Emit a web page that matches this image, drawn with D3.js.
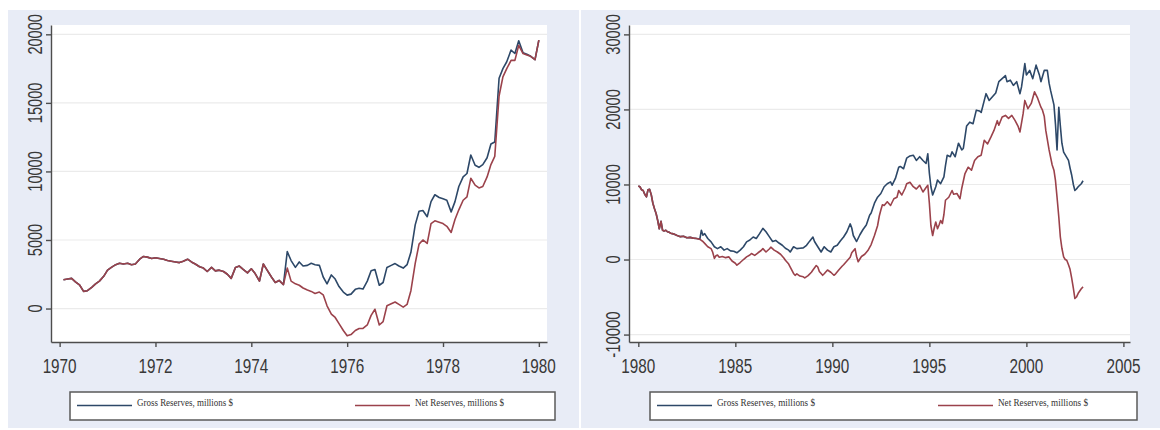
<!DOCTYPE html>
<html>
<head>
<meta charset="utf-8">
<script src="https://cdn.jsdelivr.net/npm/d3@7"></script>
<style>
  html, body { margin: 0; padding: 0; background: #ffffff; }
  svg { display: block; }
</style>
</head>
<body>
<svg id="chart" width="1160" height="430"></svg>
<script>
// ---------- Panel 1: 1970-1980, monthly ----------
const leftDates = [
  1970.08, 1970.17, 1970.25, 1970.33, 1970.42, 1970.50, 1970.58, 1970.67, 1970.75, 1970.83, 1970.92,
  1971.00, 1971.08, 1971.17, 1971.25, 1971.33, 1971.42, 1971.50, 1971.58, 1971.67, 1971.75, 1971.83, 1971.92,
  1972.00, 1972.08, 1972.17, 1972.25, 1972.33, 1972.42, 1972.50, 1972.58, 1972.67, 1972.75, 1972.83, 1972.92,
  1973.00, 1973.08, 1973.17, 1973.25, 1973.33, 1973.42, 1973.50, 1973.58, 1973.67, 1973.75, 1973.83, 1973.92,
  1974.00, 1974.08, 1974.17, 1974.25, 1974.33, 1974.42, 1974.50, 1974.58, 1974.67, 1974.75, 1974.83, 1974.92,
  1975.00, 1975.08, 1975.17, 1975.25, 1975.33, 1975.42, 1975.50, 1975.58, 1975.67, 1975.75, 1975.83, 1975.92,
  1976.00, 1976.08, 1976.17, 1976.25, 1976.33, 1976.42, 1976.50, 1976.58, 1976.67, 1976.75, 1976.83, 1976.92,
  1977.00, 1977.08, 1977.17, 1977.25, 1977.33, 1977.42, 1977.50, 1977.58, 1977.67, 1977.75, 1977.83, 1977.92,
  1978.00, 1978.08, 1978.17, 1978.25, 1978.33, 1978.42, 1978.50, 1978.58, 1978.67, 1978.75, 1978.83, 1978.92,
  1979.00, 1979.08, 1979.17, 1979.25, 1979.33, 1979.42, 1979.50, 1979.58, 1979.67, 1979.75, 1979.83, 1979.92,
  1980.00
];
const leftNet = [
  2100, 2150, 2200, 1950, 1700, 1250, 1300, 1550, 1800, 2000, 2350,
  2800, 3000, 3200, 3300, 3250, 3300, 3200, 3250, 3600, 3800, 3750, 3650,
  3700, 3650, 3600, 3500, 3450, 3400, 3350, 3450, 3600, 3400, 3250, 3050,
  2950, 2700, 3000, 2750, 2800, 2700, 2500, 2200, 3000, 3100, 2850, 2600,
  2900, 2550, 2000, 3250, 2800, 2300, 1900, 2050, 1750, 2950, 2000, 1800,
  1700, 1500, 1350, 1250, 1100, 1200, 1000, 200, -400, -650, -1100, -1600,
  -1990, -1900, -1600, -1450, -1450, -1200, -500, -50, -1200, -950, 200, 350,
  480, 300, 100, 300, 1300, 3300, 4700, 5000, 4750, 6200, 6400, 6300,
  6200, 6000, 5550, 6500, 7200, 7900, 8150, 9500, 9000, 8800, 8900, 9600,
  10500, 11100, 15500, 16900, 17500, 18100, 18100, 19200, 18600, 18500, 18400, 18150,
  19580
];
const leftGross = [
  2100, 2150, 2200, 1950, 1700, 1250, 1300, 1550, 1800, 2000, 2350,
  2800, 3000, 3200, 3300, 3250, 3300, 3200, 3250, 3600, 3800, 3750, 3650,
  3700, 3650, 3600, 3500, 3450, 3400, 3350, 3450, 3600, 3400, 3250, 3050,
  2950, 2700, 3000, 2750, 2800, 2700, 2500, 2200, 3000, 3100, 2850, 2600,
  2900, 2550, 2000, 3250, 2800, 2300, 1900, 2050, 1750, 4150, 3500, 3000,
  3400, 3100, 3150, 3300, 3200, 3150, 2300, 1800, 2450, 2150, 1600, 1200,
  980, 1050, 1400, 1480, 1420, 2000, 2750, 2850, 1700, 1900, 3000, 3150,
  3280, 3100, 2950, 3200, 4100, 6100, 7100, 7150, 6700, 7800, 8300, 8100,
  8000, 7900, 7050, 7800, 8900, 9600, 9850, 11200, 10450, 10300, 10500, 11000,
  12000, 12150, 16800, 17500, 18000, 18850, 18600, 19530, 18650, 18550, 18400, 18150,
  19580
];
const leftYearTicks = [1970, 1972, 1974, 1976, 1978, 1980];
const leftValueTicks = [0, 5000, 10000, 15000, 20000];

// ---------- Panel 2: 1980-2003 ----------
const rightGross = [
  [1980.00, 9800], [1980.08, 9700], [1980.17, 9300], [1980.25, 9200], [1980.33, 8700], [1980.42, 8350],
  [1980.50, 9300], [1980.58, 9350], [1980.67, 8600], [1980.75, 7500], [1980.83, 6800], [1980.92, 6100],
  [1981.00, 5200], [1981.08, 4100], [1981.17, 5100], [1981.25, 3900], [1981.33, 3800], [1981.42, 3900],
  [1981.50, 3700], [1981.58, 3650], [1981.67, 3500], [1981.75, 3450], [1981.83, 3400], [1982.00, 3200],
  [1982.17, 3050], [1982.33, 3100], [1982.50, 2900], [1982.67, 2950], [1982.83, 2850], [1983.00, 2800],
  [1983.17, 2700], [1983.25, 3900], [1983.33, 3250], [1983.42, 3450], [1983.58, 2800], [1983.75, 2350],
  [1983.92, 1700], [1984.08, 1450], [1984.25, 1700], [1984.42, 1250], [1984.58, 1450], [1984.75, 1150],
  [1984.92, 1100], [1985.08, 900], [1985.25, 1250], [1985.42, 1700], [1985.58, 2350], [1985.75, 2600],
  [1985.92, 3000], [1986.08, 2800], [1986.25, 3450], [1986.42, 4150], [1986.58, 3700], [1986.75, 3050],
  [1986.92, 2400], [1987.08, 2550], [1987.25, 2200], [1987.42, 1900], [1987.58, 1500], [1987.75, 1250],
  [1987.83, 1000], [1988.00, 1700], [1988.17, 1450], [1988.33, 1500], [1988.50, 1550], [1988.67, 1900],
  [1988.83, 2450], [1989.00, 3000], [1989.08, 2400], [1989.25, 1700], [1989.42, 1000], [1989.58, 1700],
  [1989.75, 1250], [1989.92, 1000], [1990.08, 1700], [1990.25, 1900], [1990.42, 2500], [1990.58, 3000],
  [1990.75, 3700], [1990.92, 4750], [1991.00, 4200], [1991.08, 3200], [1991.25, 2400], [1991.42, 3300],
  [1991.58, 4000], [1991.75, 4600], [1991.92, 5900], [1992.00, 6200], [1992.17, 7500], [1992.33, 8300],
  [1992.50, 8800], [1992.67, 9700], [1992.83, 10100], [1993.00, 10350], [1993.08, 9900], [1993.25, 10800],
  [1993.42, 12300], [1993.50, 12400], [1993.67, 12100], [1993.83, 13500], [1994.00, 13800], [1994.17, 13900],
  [1994.33, 13200], [1994.50, 13700], [1994.67, 13200], [1994.83, 12800], [1994.92, 14100], [1995.00, 11500],
  [1995.08, 9700], [1995.17, 8600], [1995.33, 9700], [1995.42, 10600], [1995.58, 10100], [1995.75, 11000],
  [1995.83, 12500], [1995.92, 13900], [1996.08, 13700], [1996.17, 14350], [1996.33, 13700], [1996.50, 15500],
  [1996.67, 14600], [1996.75, 14800], [1996.92, 17800], [1997.08, 18300], [1997.25, 18100], [1997.42, 19900],
  [1997.58, 19800], [1997.67, 19600], [1997.92, 22100], [1998.08, 21200], [1998.25, 21700], [1998.42, 22200],
  [1998.58, 23700], [1998.75, 24100], [1998.92, 24500], [1999.00, 23700], [1999.17, 23900], [1999.33, 23200],
  [1999.50, 23700], [1999.67, 22100], [1999.75, 23000], [1999.92, 26100], [2000.00, 24600], [2000.17, 25200],
  [2000.33, 24100], [2000.50, 25900], [2000.67, 24600], [2000.75, 23700], [2000.92, 25200], [2001.08, 25200],
  [2001.17, 23500], [2001.25, 22500], [2001.42, 20600], [2001.50, 18000], [2001.58, 14600], [2001.67, 20300],
  [2001.75, 17800], [2001.83, 15500], [2001.92, 14300], [2002.08, 13600], [2002.17, 13200], [2002.25, 12200],
  [2002.33, 11300], [2002.42, 10000], [2002.50, 9200], [2002.58, 9400], [2002.67, 9700], [2002.83, 10100],
  [2002.92, 10500]
];
const rightNet = [
  [1980.00, 9800], [1980.08, 9700], [1980.17, 9300], [1980.25, 9200], [1980.33, 8700], [1980.42, 8350],
  [1980.50, 9300], [1980.58, 9350], [1980.67, 8600], [1980.75, 7500], [1980.83, 6800], [1980.92, 6100],
  [1981.00, 5200], [1981.08, 4100], [1981.17, 5100], [1981.25, 3900], [1981.33, 3800], [1981.42, 3900],
  [1981.50, 3700], [1981.58, 3650], [1981.67, 3500], [1981.75, 3450], [1981.83, 3400], [1982.00, 3200],
  [1982.17, 3050], [1982.33, 3100], [1982.50, 2900], [1982.67, 2950], [1982.83, 2850], [1983.00, 2800],
  [1983.17, 2700], [1983.25, 2550], [1983.33, 2400], [1983.42, 2150], [1983.58, 1700], [1983.75, 1450],
  [1983.83, 1000], [1983.92, 150], [1984.00, 500], [1984.08, 600], [1984.17, 300], [1984.33, 400],
  [1984.50, 250], [1984.67, 350], [1984.83, -200], [1985.00, -500], [1985.08, -750], [1985.25, -400],
  [1985.42, 0], [1985.58, 350], [1985.75, 600], [1985.83, 800], [1986.00, 550], [1986.17, 900],
  [1986.33, 1200], [1986.42, 1450], [1986.58, 1000], [1986.75, 1400], [1986.83, 1650], [1987.00, 1250],
  [1987.17, 1000], [1987.33, 700], [1987.50, 200], [1987.58, -100], [1987.75, -600], [1987.83, -1000],
  [1988.00, -1850], [1988.08, -2100], [1988.17, -1900], [1988.33, -2200], [1988.50, -2300], [1988.58, -2450],
  [1988.75, -2150], [1988.92, -1700], [1989.00, -1400], [1989.17, -800], [1989.25, -1000], [1989.33, -1600],
  [1989.50, -2100], [1989.58, -1900], [1989.75, -1400], [1989.92, -1700], [1990.08, -2100], [1990.17, -1900],
  [1990.33, -1400], [1990.50, -900], [1990.58, -700], [1990.75, -200], [1990.92, 300], [1991.00, 900],
  [1991.17, 1450], [1991.25, 400], [1991.33, -300], [1991.50, 400], [1991.67, 700], [1991.83, 1200],
  [1992.00, 2000], [1992.17, 3200], [1992.33, 4500], [1992.42, 5800], [1992.50, 6600], [1992.58, 7300],
  [1992.67, 7200], [1992.83, 7700], [1993.00, 7200], [1993.17, 8100], [1993.33, 8300], [1993.42, 9200],
  [1993.58, 8600], [1993.75, 9500], [1993.83, 10100], [1994.00, 10300], [1994.17, 9700], [1994.33, 9400],
  [1994.50, 9900], [1994.67, 9000], [1994.83, 9600], [1994.92, 9900], [1995.00, 7500], [1995.08, 4500],
  [1995.17, 3200], [1995.25, 4200], [1995.33, 5000], [1995.42, 4100], [1995.50, 4600], [1995.58, 5200],
  [1995.67, 4800], [1995.75, 6000], [1995.83, 7900], [1996.00, 8300], [1996.17, 9200], [1996.25, 8700],
  [1996.42, 8800], [1996.58, 8100], [1996.67, 9500], [1996.83, 11400], [1997.00, 12300], [1997.17, 11900],
  [1997.33, 13200], [1997.50, 13700], [1997.67, 13900], [1997.83, 15900], [1998.00, 15400], [1998.17, 16300],
  [1998.33, 17200], [1998.50, 18500], [1998.58, 17900], [1998.75, 19000], [1998.92, 19200], [1999.08, 18800],
  [1999.25, 19200], [1999.42, 18500], [1999.58, 17700], [1999.67, 17000], [1999.83, 19400], [1999.92, 21200],
  [2000.08, 20100], [2000.25, 20800], [2000.42, 22350], [2000.58, 21500], [2000.75, 20300], [2000.83, 19900],
  [2000.92, 19100], [2001.00, 17200], [2001.17, 14600], [2001.33, 12600], [2001.42, 11900], [2001.50, 10500],
  [2001.58, 8300], [2001.67, 5700], [2001.75, 3000], [2001.83, 1500], [2001.92, 350], [2002.00, 0],
  [2002.08, -100], [2002.17, -700], [2002.25, -1300], [2002.33, -2400], [2002.42, -3800], [2002.50, -5200],
  [2002.58, -5000], [2002.67, -4500], [2002.75, -4200], [2002.83, -3900], [2002.92, -3650]
];
const rightYearTicks = [1980, 1985, 1990, 1995, 2000, 2005];
const rightValueTicks = [-10000, 0, 10000, 20000, 30000];

const legendLabels = ["Gross Reserves, millions $", "Net Reserves, millions $"];
const seriesColors = ["#2d4868", "#9b424b"];

// ---------- drawing ----------
const svg = d3.select("#chart");
const plotTop = 25, plotBottom = 342;

function drawPanel(p) {
  const g = svg.append("g");

  // light graph-region background
  g.append("rect")
    .attr("x", p.bgLeft).attr("y", 10)
    .attr("width", p.bgRight - p.bgLeft).attr("height", 418)
    .attr("fill", "#e8ecf6");

  const x = d3.scaleLinear().domain(p.xDomain).range([p.left, p.right]);
  const y = d3.scaleLinear().domain(p.yDomain).range([plotBottom, plotTop]);

  // white plot region
  g.append("rect")
    .attr("x", p.left).attr("y", plotTop)
    .attr("width", p.right - p.left).attr("height", plotBottom - plotTop)
    .attr("fill", "#ffffff");

  // horizontal grid lines
  g.append("g").selectAll("line").data(p.yTicks).join("line")
    .attr("x1", p.left).attr("x2", p.right)
    .attr("y1", d => y(d)).attr("y2", d => y(d))
    .attr("stroke", "#ebebeb").attr("stroke-width", 1.2);

  // axes
  const yAxis = g.append("g").attr("transform", `translate(${p.left},0)`)
    .call(d3.axisLeft(y).tickValues(p.yTicks).tickSize(5).tickSizeOuter(0).tickFormat(""));
  const xAxis = g.append("g").attr("transform", `translate(0,${plotBottom})`)
    .call(d3.axisBottom(x).tickValues(p.xTicks).tickSize(5).tickSizeOuter(0).tickFormat(""));
  [yAxis, xAxis].forEach(a => {
    a.selectAll("path, line").attr("stroke", "#4d4d4d").attr("stroke-width", 1.4);
  });

  // rotated value labels
  g.append("g").selectAll("text").data(p.yTicks).join("text")
    .attr("transform", d => `translate(${p.left - 9},${y(d)}) rotate(-90)`)
    .attr("text-anchor", "middle")
    .attr("font-family", "'Liberation Sans', Arial, sans-serif")
    .attr("font-size", 20)
    .attr("fill", "#383838")
    .attr("textLength", d => String(d).replace("-", "").length * 8.1 + (d < 0 ? 6 : 0))
    .attr("lengthAdjust", "spacingAndGlyphs")
    .text(d => d);

  // year labels
  g.append("g").selectAll("text").data(p.xTicks).join("text")
    .attr("x", d => x(d)).attr("y", 373)
    .attr("text-anchor", "middle")
    .attr("font-family", "'Liberation Sans', Arial, sans-serif")
    .attr("font-size", 20)
    .attr("fill", "#383838")
    .attr("textLength", 34)
    .attr("lengthAdjust", "spacingAndGlyphs")
    .text(d => d);

  // series
  const line = d3.line().x(d => x(d[0])).y(d => y(d[1]));
  p.series.forEach((s, i) => {
    g.append("path")
      .datum(s)
      .attr("d", line)
      .attr("fill", "none")
      .attr("stroke", seriesColors[i])
      .attr("stroke-width", 1.6)
      .attr("stroke-linejoin", "round");
  });

  // legend
  const lg = g.append("g");
  lg.append("rect")
    .attr("x", p.legend.left).attr("y", 392)
    .attr("width", p.legend.right - p.legend.left).attr("height", 28)
    .attr("fill", "#ffffff").attr("stroke", "#5a5a5a").attr("stroke-width", 1.5);
  p.legend.items.forEach((it, i) => {
    lg.append("line")
      .attr("x1", it.x).attr("x2", it.x + 55)
      .attr("y1", 405.5).attr("y2", 405.5)
      .attr("stroke", seriesColors[i]).attr("stroke-width", 1.6);
    lg.append("text")
      .attr("x", it.x + 60).attr("y", 406)
      .attr("font-family", "'Liberation Serif', 'Times New Roman', serif")
      .attr("font-size", 10)
      .attr("fill", "#333333")
      .attr("textLength", it.w)
      .attr("lengthAdjust", "spacingAndGlyphs")
      .text(legendLabels[i]);
  });
}

drawPanel({
  bgLeft: 8, bgRight: 579,
  left: 51, right: 547,
  xDomain: [1969.82, 1980.17],
  yDomain: [-2440, 20680],
  xTicks: leftYearTicks,
  yTicks: leftValueTicks,
  series: [
    leftDates.map((d, i) => [d, leftGross[i]]),
    leftDates.map((d, i) => [d, leftNet[i]])
  ],
  legend: { left: 70, right: 555, items: [{ x: 77, w: 96 }, { x: 355, w: 89 }] }
});

drawPanel({
  bgLeft: 581, bgRight: 1160,
  left: 629, right: 1130,
  xDomain: [1979.52, 2005.34],
  yDomain: [-10990, 31250],
  xTicks: rightYearTicks,
  yTicks: rightValueTicks,
  series: [rightGross, rightNet],
  legend: { left: 650, right: 1137, items: [{ x: 657, w: 98 }, { x: 938, w: 90 }] }
});
</script>
</body>
</html>
